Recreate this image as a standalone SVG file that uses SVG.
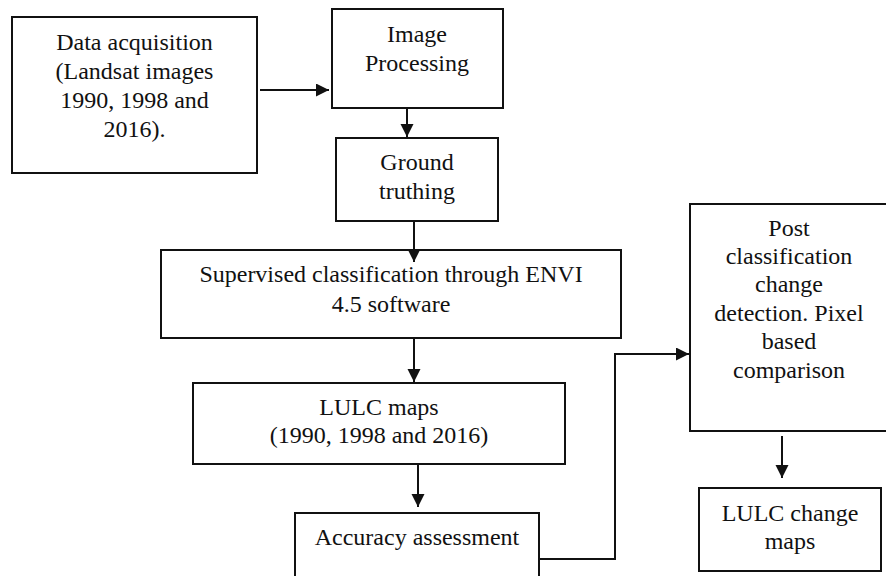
<svg xmlns="http://www.w3.org/2000/svg" width="886" height="576" viewBox="0 0 886 576">
<defs>
<style>
.box{fill:#fff;stroke:#111;stroke-width:2}
.t{font-family:"Liberation Serif","Times New Roman",serif;font-size:24px;fill:#111;text-anchor:middle}
.c{fill:none;stroke:#111;stroke-width:2}
</style>
<marker id="ah" markerUnits="userSpaceOnUse" markerWidth="14" markerHeight="14" refX="13" refY="6.5" orient="auto">
<path d="M0,0 L13,6.5 L0,13 z" fill="#111"/>
</marker>
</defs>
<rect width="886" height="576" fill="#fff"/>
<g id="data-acquisition">
<rect class="box" x="12" y="17" width="245" height="156"/>
<text class="t" x="134.5" y="50">Data acquisition</text>
<text class="t" x="134.5" y="79">(Landsat images</text>
<text class="t" x="134.5" y="108">1990, 1998 and</text>
<text class="t" x="134.5" y="137">2016).</text>
</g>
<g id="image-processing">
<rect class="box" x="332" y="9" width="171" height="99"/>
<text class="t" x="417" y="42">Image</text>
<text class="t" x="417" y="71">Processing</text>
</g>
<g id="ground-truthing">
<rect class="box" x="336" y="138" width="162" height="83"/>
<text class="t" x="417" y="170">Ground</text>
<text class="t" x="417" y="199">truthing</text>
</g>
<g id="supervised-classification">
<rect class="box" x="161" y="250" width="460" height="88"/>
<text class="t" x="391" y="282">Supervised classification through ENVI</text>
<text class="t" x="391" y="312">4.5 software</text>
</g>
<g id="lulc-maps">
<rect class="box" x="193" y="383" width="372" height="81"/>
<text class="t" x="379" y="415">LULC maps</text>
<text class="t" x="379" y="443">(1990, 1998 and 2016)</text>
</g>
<g id="accuracy-assessment">
<rect class="box" x="295" y="513" width="244" height="80"/>
<text class="t" x="417" y="545">Accuracy assessment</text>
</g>
<g id="post-classification">
<rect class="box" x="690" y="204" width="200" height="227"/>
<text class="t" x="789" y="236">Post</text>
<text class="t" x="789" y="264">classification</text>
<text class="t" x="789" y="292">change</text>
<text class="t" x="789" y="321">detection. Pixel</text>
<text class="t" x="789" y="349">based</text>
<text class="t" x="789" y="378">comparison</text>
</g>
<g id="lulc-change-maps">
<rect class="box" x="699" y="488" width="182" height="83"/>
<text class="t" x="790" y="521">LULC change</text>
<text class="t" x="790" y="549">maps</text>
</g>
<g id="connectors">
<line class="c" x1="260" y1="90" x2="329" y2="90" marker-end="url(#ah)"/>
<line class="c" x1="407" y1="108" x2="407" y2="137" marker-end="url(#ah)"/>
<line class="c" x1="414" y1="221" x2="414" y2="262" marker-end="url(#ah)"/>
<line class="c" x1="414" y1="338" x2="414" y2="382" marker-end="url(#ah)"/>
<line class="c" x1="418" y1="464" x2="418" y2="507" marker-end="url(#ah)"/>
<polyline class="c" points="539,559 615,559 615,354 689,354" marker-end="url(#ah)"/>
<line class="c" x1="782" y1="436" x2="782" y2="478" marker-end="url(#ah)"/>
</g>
</svg>
